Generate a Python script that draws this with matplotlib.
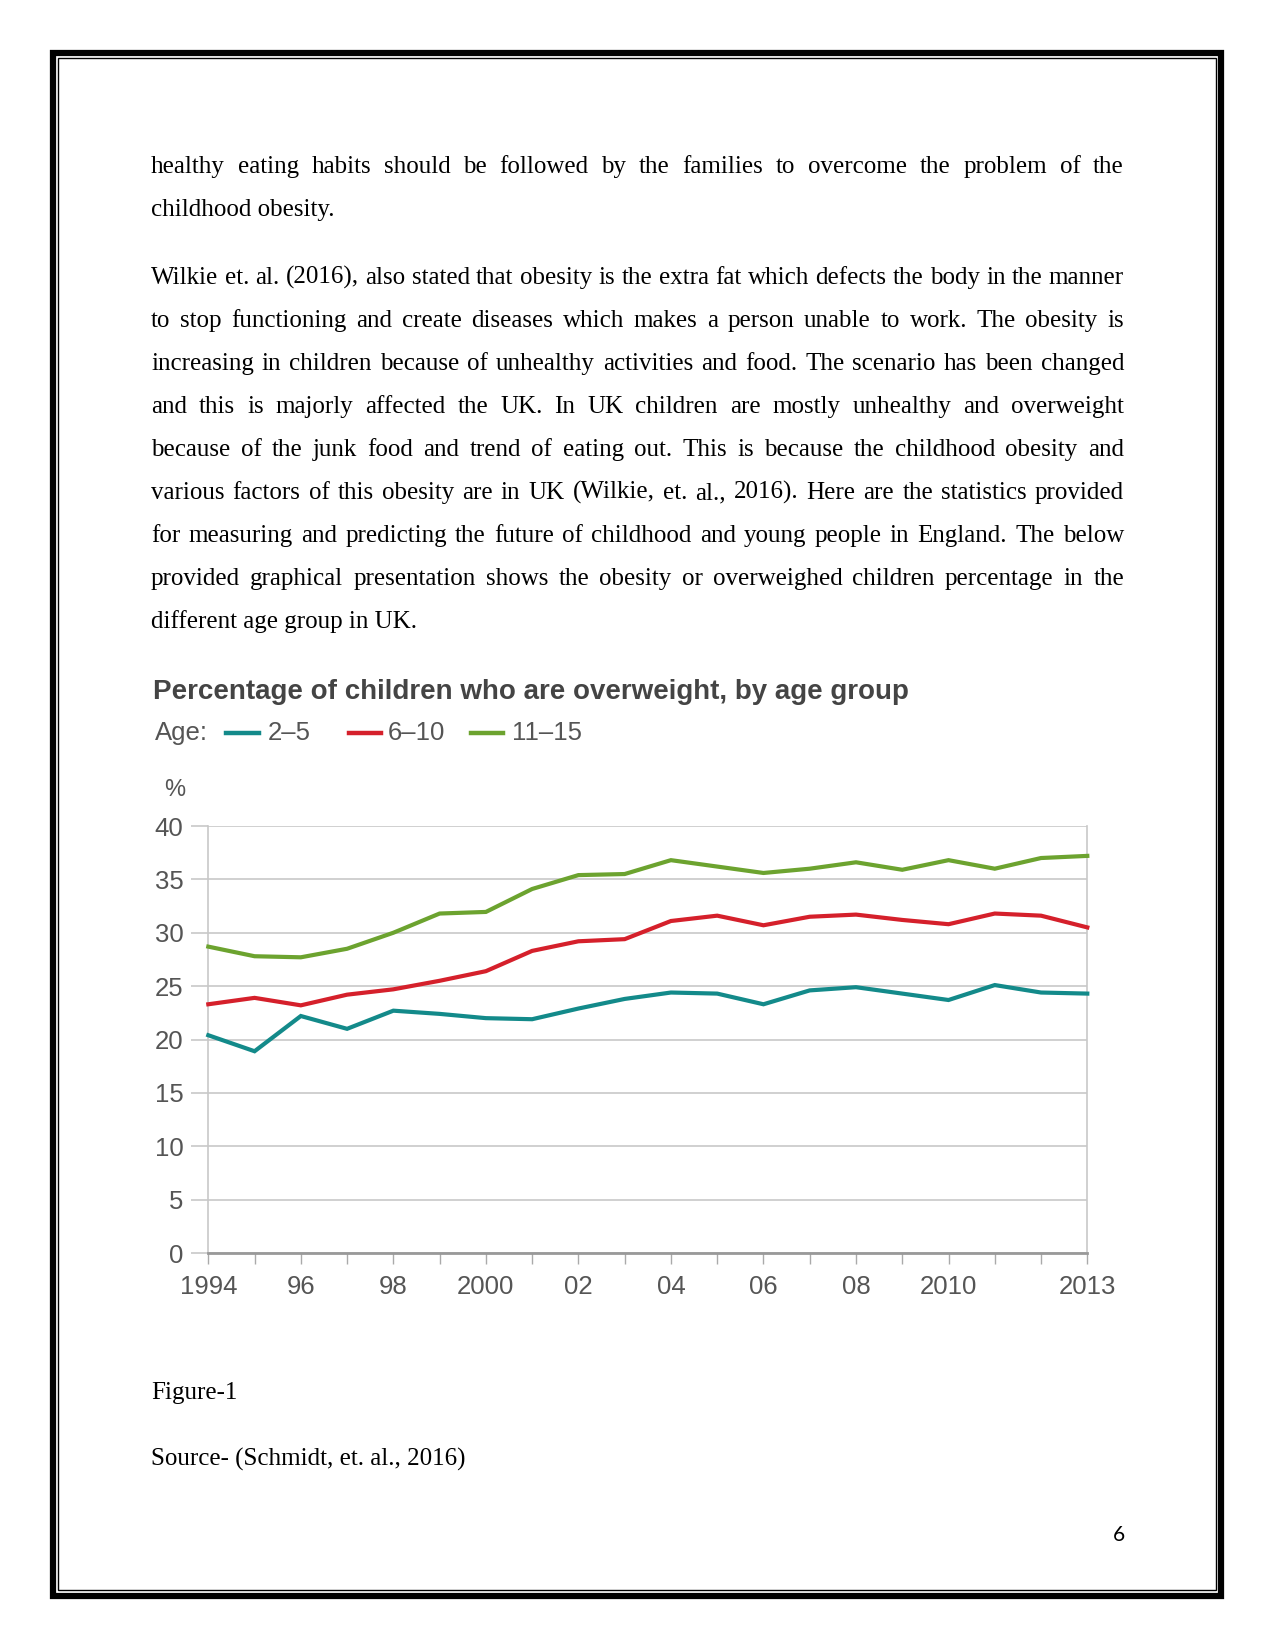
import matplotlib
matplotlib.use('Agg')
import matplotlib.pyplot as plt
from matplotlib.patches import Rectangle

years = list(range(1994, 2014))
age_2_5 = [20.4, 18.9, 22.2, 21.0, 22.7, 22.4, 22.0, 21.9, 22.9, 23.8,
           24.4, 24.3, 23.3, 24.6, 24.9, 24.3, 23.7, 25.1, 24.4, 24.3]
age_6_10 = [23.3, 23.9, 23.2, 24.2, 24.7, 25.5, 26.4, 28.3, 29.2, 29.4,
            31.1, 31.6, 30.7, 31.5, 31.7, 31.2, 30.8, 31.8, 31.6, 30.5]
age_11_15 = [28.7, 27.8, 27.7, 28.5, 30.0, 31.8, 31.95, 34.1, 35.4, 35.5,
             36.8, 36.2, 35.6, 36.0, 36.6, 35.9, 36.8, 36.0, 37.0, 37.2]
series_labels = ['2–5', '6–10', '11–15']
series_colors = ['#138a8a', '#d5202b', '#6ca32f']
y_ticks = [0, 5, 10, 15, 20, 25, 30, 35, 40]
x_label_years = {1994: '1994', 1996: '96', 1998: '98', 2000: '2000', 2002: '02',
                 2004: '04', 2006: '06', 2008: '08', 2010: '2010', 2013: '2013'}

para1 = [
    "healthy eating habits should be followed by the families to overcome the problem of the",
    "childhood obesity.",
]
para2 = [
    "Wilkie et. al. (2016), also stated that obesity is the extra fat which defects the body in the manner",
    "to stop functioning and create diseases which makes a person unable to work. The obesity is",
    "increasing in children because of unhealthy activities and food. The scenario has been changed",
    "and this is majorly affected the UK. In UK children are mostly unhealthy and overweight",
    "because of the junk food and trend of eating out. This is because the childhood obesity and",
    "various factors of this obesity are in UK (Wilkie, et. al., 2016). Here are the statistics provided",
    "for measuring and predicting the future of childhood and young people in England. The below",
    "provided graphical presentation shows the obesity or overweighed children percentage in the",
    "different age group in UK.",
]

W, H = 1275, 1651
fig = plt.figure(figsize=(W / 100, H / 100), dpi=100)
renderer = fig.canvas.get_renderer()

BODY = dict(family='Liberation Serif', fontsize=18, color='black')


def fx(px):
    return px / W


def fy(py):
    return 1 - py / H


def word_width(s):
    t = fig.text(0, 0, s, **BODY)
    w = t.get_window_extent(renderer).width
    t.remove()
    return w


def put_paragraph(lines, first_baseline, left=151, right=1124, step=43):
    for i, line in enumerate(lines):
        y = fy(first_baseline + i * step)
        if i == len(lines) - 1:
            fig.text(fx(left), y, line, va='baseline', ha='left', **BODY)
            continue
        words = line.split()
        widths = [word_width(w) for w in words]
        gap = (right - left - sum(widths)) / (len(words) - 1)
        x = left
        for w, wd in zip(words, widths):
            fig.text(fx(x), y, w, va='baseline', ha='left', **BODY)
            x += wd + gap


# page border
fig.patches.append(Rectangle((fx(53), fy(1596)), fx(1221) - fx(53), fy(53) - fy(1596),
                             transform=fig.transFigure, fill=False, lw=4.5, ec='black'))
fig.patches.append(Rectangle((fx(58), fy(1590)), fx(1216) - fx(58), fy(58) - fy(1590),
                             transform=fig.transFigure, fill=False, lw=1.0, ec='black'))

put_paragraph(para1, 173)
put_paragraph(para2, 284)

fig.text(fx(151), fy(1399), 'Figure-1', va='baseline', **BODY)
fig.text(fx(151), fy(1466), 'Source- (Schmidt, et. al., 2016)', va='baseline', **BODY)
fig.text(fx(1119), fy(1541), '6', va='baseline', ha='center',
         family='Lato', fontsize=15, color='black')

# chart
sans = 'Liberation Sans'
fig.text(fx(153), fy(692), 'Percentage of children who are overweight, by age group',
         family=sans, fontsize=20, fontweight='bold', color='#444444', va='center')
fig.text(fx(155), fy(733), 'Age:', family=sans, fontsize=18.5, color='#555555', va='center')
leg_x = [(226, 259, 268), (349, 381, 388), (471, 503, 512)]
for (x0, x1, xt), lab, col in zip(leg_x, series_labels, series_colors):
    fig.add_artist(plt.Line2D([fx(x0), fx(x1)], [fy(733), fy(733)], color=col, lw=3.2,
                              transform=fig.transFigure))
    fig.text(fx(xt), fy(733), lab, family=sans, fontsize=18.5, color='#555555', va='center')
fig.text(fx(174.5), fy(790), '%', family=sans, fontsize=17, color='#555555',
         va='center', ha='center')

ax = fig.add_axes([fx(208.3), fy(1253), fx(1087.3) - fx(208.3), fy(826) - fy(1253)])
grid_c = '#c8c8c8'
for vals, col in zip([age_2_5, age_6_10, age_11_15], series_colors):
    ax.plot(years, vals, color=col, lw=3.0, solid_joinstyle='miter', clip_on=False, zorder=3)

ax.set_xlim(1994, 2013)
ax.set_ylim(0, 40)
ax.set_yticks(y_ticks)
ax.set_yticklabels([str(v) for v in y_ticks])
ax.yaxis.grid(True, color=grid_c, lw=1.2)
ax.set_axisbelow(True)
ax.set_xticks(years)
ax.set_xticklabels([x_label_years.get(y, '') for y in years])
ax.tick_params(axis='y', length=12, width=1.2, color=grid_c, pad=6,
               labelsize=18.5, labelcolor='#555555')
ax.tick_params(axis='x', length=8, width=1.0, color='#aaaaaa', pad=8,
               labelsize=18.5, labelcolor='#555555')
for lab in ax.get_xticklabels() + ax.get_yticklabels():
    lab.set_family(sans)
ax.spines['top'].set_visible(False)
ax.spines['left'].set_color(grid_c)
ax.spines['right'].set_color(grid_c)
ax.spines['left'].set_linewidth(1.2)
ax.spines['right'].set_linewidth(1.2)
ax.spines['bottom'].set_color('#999999')
ax.spines['bottom'].set_linewidth(2.0)

fig.savefig('out.png', dpi=100)
